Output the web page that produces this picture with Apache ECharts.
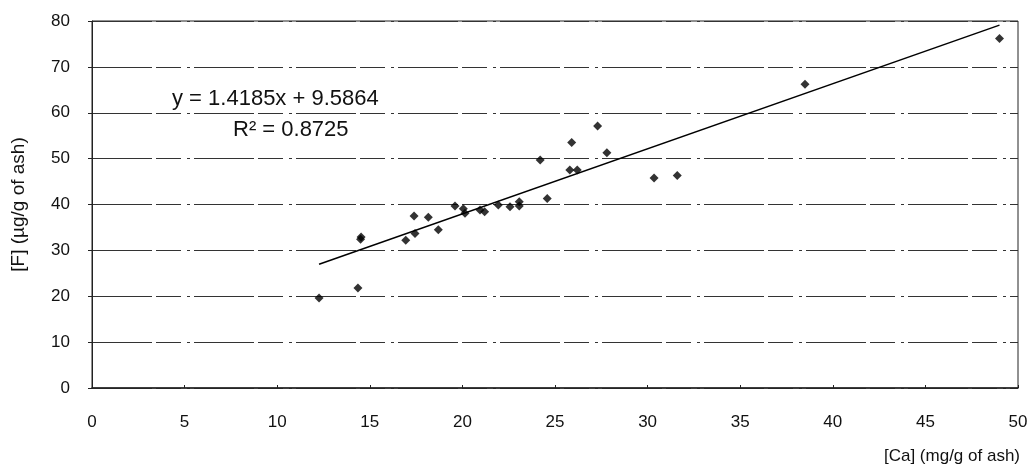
<!DOCTYPE html>
<html>
<head>
<meta charset="utf-8">
<script src="https://cdn.jsdelivr.net/npm/echarts@6/dist/echarts.min.js"></script>
<style>
html,body{margin:0;padding:0;background:#fff;}
#c{width:1033px;height:474px;}
</style>
</head>
<body>
<div id="c"></div>
<script>
// Data
const caValues = [12.26, 14.36, 14.53, 14.5, 16.94, 17.39, 17.44, 18.16, 18.7, 19.6, 20.05, 20.14, 20.95, 21.2, 21.94, 22.57, 23.07, 23.07, 24.2, 24.58, 25.8, 25.9, 26.2, 27.3, 27.8, 30.35, 31.6, 38.5, 49.0];
const fValues  = [19.6, 21.8, 32.9, 32.4, 32.2, 37.5, 33.7, 37.2, 34.5, 39.7, 39.1, 38.1, 38.8, 38.4, 39.9, 39.5, 39.7, 40.6, 49.7, 41.3, 47.5, 53.5, 47.5, 57.1, 51.3, 45.8, 46.3, 66.2, 76.2];
const slope = 1.4185;
const intercept = 9.5864;
const rSquaredText = '0.8725';
const xTicks = [0, 5, 10, 15, 20, 25, 30, 35, 40, 45, 50];
const yTicks = [0, 10, 20, 30, 40, 50, 60, 70, 80];

const points = caValues.map((x, i) => [x, fValues[i]]);
const xMinData = Math.min(...caValues);
const xMaxData = Math.max(...caValues);
const trend = [[xMinData, slope * xMinData + intercept], [xMaxData, slope * xMaxData + intercept]];

const font = 'Liberation Sans, Arial, sans-serif';
const chart = echarts.init(document.getElementById('c'));
chart.setOption({
  animation: false,
  backgroundColor: '#ffffff',
  grid: { left: 92, right: 15, top: 21, bottom: 86, show: true, borderColor: '#222', borderWidth: 1 },
  xAxis: {
    type: 'value', min: xTicks[0], max: xTicks[xTicks.length - 1], interval: 5,
    name: '[Ca] (mg/g of ash)', nameLocation: 'end', nameGap: 0,
    nameTextStyle: { fontFamily: font, fontSize: 17, color: '#111', align: 'right', verticalAlign: 'top', padding: [60, -2, 0, 0] },
    axisLine: { show: true, lineStyle: { color: '#222', width: 1.5 } },
    axisTick: { show: true, inside: true, length: 3, lineStyle: { color: '#222' } },
    axisLabel: { fontFamily: font, fontSize: 17, color: '#111', margin: 26 },
    splitLine: { show: false }
  },
  yAxis: {
    type: 'value', min: yTicks[0], max: yTicks[yTicks.length - 1], interval: 10,
    name: '[F] (\u00b5g/g of ash)', nameLocation: 'middle', nameGap: 64, nameRotate: 90,
    nameTextStyle: { fontFamily: font, fontSize: 19, color: '#111' },
    axisLine: { show: true, lineStyle: { color: '#222', width: 1 } },
    axisTick: { show: true, inside: false, length: 4, lineStyle: { color: '#222' } },
    axisLabel: { fontFamily: font, fontSize: 17, color: '#111', margin: 22 },
    splitLine: { show: true, lineStyle: { color: '#333', width: 1, type: [60, 4, 25, 6, 3, 4] } }
  },
  series: [
    {
      type: 'scatter', data: points, symbol: 'diamond', symbolSize: 9,
      itemStyle: { color: '#000' }, z: 3
    },
    {
      type: 'line', data: trend, showSymbol: false, symbol: 'none',
      lineStyle: { color: '#000', width: 1.5 }, z: 2
    }
  ],
  graphic: [
    { type: 'text', left: 172, top: 88, style: { text: 'y = ' + slope + 'x + ' + intercept, font: '22px ' + font, fill: '#111' } },
    { type: 'text', left: 233, top: 119, style: { text: 'R\u00b2 = ' + rSquaredText, font: '22px ' + font, fill: '#111' } }
  ]
});
</script>
</body>
</html>
